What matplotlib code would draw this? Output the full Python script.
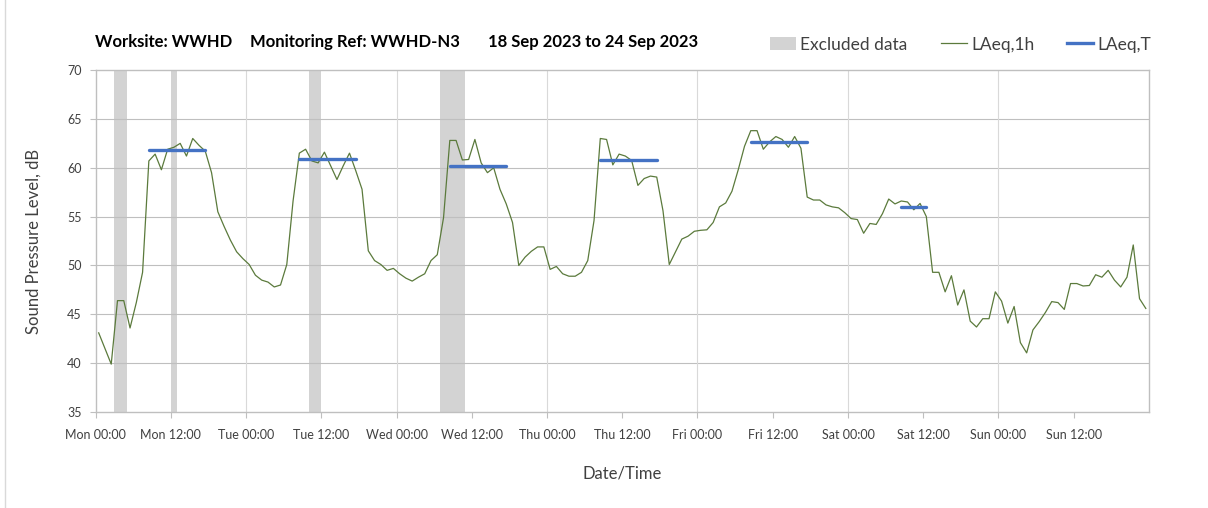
import matplotlib
matplotlib.use("Agg")
from matplotlib import pyplot as plt
from matplotlib.patches import Patch
from matplotlib.lines import Line2D

matplotlib.rcParams.update({
    'font.family': ['Lato', 'DejaVu Sans'],
    'font.size': 9,
})

# hourly LAeq,1h values, Mon 00:00 -> Sun 23:00 (168 hours)
laeq_1h = [
    43.1, 41.5, 39.9, 46.4, 46.4, 43.6, 46.2, 49.3, 60.7, 61.4, 59.8, 61.9,
    62.1, 62.5, 61.2, 63.0, 62.3, 61.7, 59.5, 55.5, 54.0, 52.6, 51.4, 50.7,
    50.1, 49.0, 48.5, 48.3, 47.8, 48.0, 50.1, 56.6, 61.5, 61.9, 60.7, 60.5,
    61.6, 60.2, 58.8, 60.2, 61.5, 59.7, 57.8, 51.5, 50.5, 50.1, 49.5, 49.7,
    49.15, 48.7, 48.4, 48.8, 49.15, 50.5, 51.1, 54.9, 62.8, 62.8, 60.8, 60.85,
    62.9, 60.5, 59.5, 60.0, 57.8, 56.3, 54.4, 50.0, 50.85, 51.45, 51.9, 51.9,
    49.6, 49.9, 49.15, 48.9, 48.9, 49.3, 50.5, 54.6, 63.0, 62.9, 60.3, 61.4,
    61.2, 60.75, 58.2, 58.9, 59.15, 59.05, 55.6, 50.1, 51.4, 52.7, 53.0, 53.5,
    53.6, 53.65, 54.4, 56.0, 56.4, 57.6, 59.8, 62.2, 63.8, 63.8, 61.9, 62.65,
    63.2, 62.9, 62.1, 63.2, 62.0, 57.0, 56.7, 56.7, 56.2, 56.0, 55.9, 55.4,
    54.8, 54.7, 53.3, 54.3, 54.2, 55.3, 56.8, 56.3, 56.6, 56.5, 55.7, 56.35,
    55.0, 49.3, 49.3, 47.3, 48.95, 45.95, 47.5, 44.3, 43.7, 44.55, 44.55, 47.3,
    46.35, 44.1, 45.8, 42.1, 41.05, 43.4, 44.25, 45.2, 46.3, 46.2, 45.5, 48.15,
    48.15, 47.9, 47.95, 49.05, 48.8, 49.5, 48.5, 47.8, 48.8, 52.1, 46.6, 45.6,
]

# LAeq,T periods (first hour, last hour, level)
period_start = [8, 32, 56, 80, 104, 128]
period_end = [17, 41, 65, 89, 113, 132]
period_level = [61.8, 60.9, 60.2, 60.8, 62.6, 56.0]

# excluded data spans, in hours from Mon 00:00
excl_start = [3, 12, 34, 55]
excl_end = [5, 13, 36, 59]

tick_labels = ['Mon 00:00', 'Mon 12:00', 'Tue 00:00', 'Tue 12:00', 'Wed 00:00',
               'Wed 12:00', 'Thu 00:00', 'Thu 12:00', 'Fri 00:00', 'Fri 12:00',
               'Sat 00:00', 'Sat 12:00', 'Sun 00:00', 'Sun 12:00']

green = '#5b7a3c'
blue = '#4472c4'
band = '#d3d3d3'
frame = '#bfbfbf'

fig = plt.figure(figsize=(12.08, 5.08), dpi=100)
ax = fig.add_axes([0.0791, 0.189, 0.872, 0.673])

for s, e in zip(excl_start, excl_end):
    ax.axvspan(s, e, color=band, lw=0, zorder=1)

hours = [h + 0.5 for h in range(len(laeq_1h))]
ax.plot(hours, laeq_1h, color=green, lw=0.9, zorder=3)

for s, e, v in zip(period_start, period_end, period_level):
    ax.plot([s + 0.5, e + 0.5], [v, v], color=blue, lw=2.4,
            solid_capstyle='round', zorder=4)

ax.set_xlim(0, 168)
ax.set_ylim(35, 70)
ax.set_yticks(range(35, 71, 5))
ax.set_xticks(range(0, 168, 12))
ax.set_xticklabels(tick_labels)
ax.tick_params(axis='both', colors=frame, labelcolor='#404040', length=4, width=0.8)
ax.tick_params(axis='x', pad=8)
ax.tick_params(axis='y', pad=6)

# grid: horizontal every 5 dB, vertical at day boundaries only
for y in range(40, 70, 5):
    ax.axhline(y, color=frame, lw=0.8, zorder=2)
for d in range(24, 168, 24):
    ax.axvline(d, color='#d9d9d9', lw=0.8, zorder=2)

for sp in ax.spines.values():
    sp.set_color(frame)
    sp.set_linewidth(1.0)

ax.set_ylabel('Sound Pressure Level, dB', fontsize=12, color='#404040', labelpad=18)
ax.set_xlabel('Date/Time', fontsize=12, color='#404040', labelpad=18)

title_parts = ['Worksite: WWHD', 'Monitoring Ref: WWHD-N3', '18 Sep 2023 to 24 Sep 2023']
title_x = [0.079, 0.207, 0.404]
for x, t in zip(title_x, title_parts):
    fig.text(x, 0.918, t, fontsize=12, fontweight='bold', color='black', va='center')

handles = [Patch(facecolor=band, edgecolor='none'),
           Line2D([], [], color=green, lw=0.9),
           Line2D([], [], color=blue, lw=2.4)]
fig.legend(handles, ['Excluded data', 'LAeq,1h', 'LAeq,T'], loc='center right',
           bbox_to_anchor=(0.966, 0.912), ncol=3, frameon=False, fontsize=12.5,
           handlelength=1.5, handleheight=0.8, handletextpad=0.25, columnspacing=1.9,
           labelcolor='#404040')

fig.add_artist(Line2D([0.004, 0.004], [0, 1], color='#d9d9d9', lw=1,
                      transform=fig.transFigure))

fig.savefig('out.png', dpi=100, facecolor='white')
